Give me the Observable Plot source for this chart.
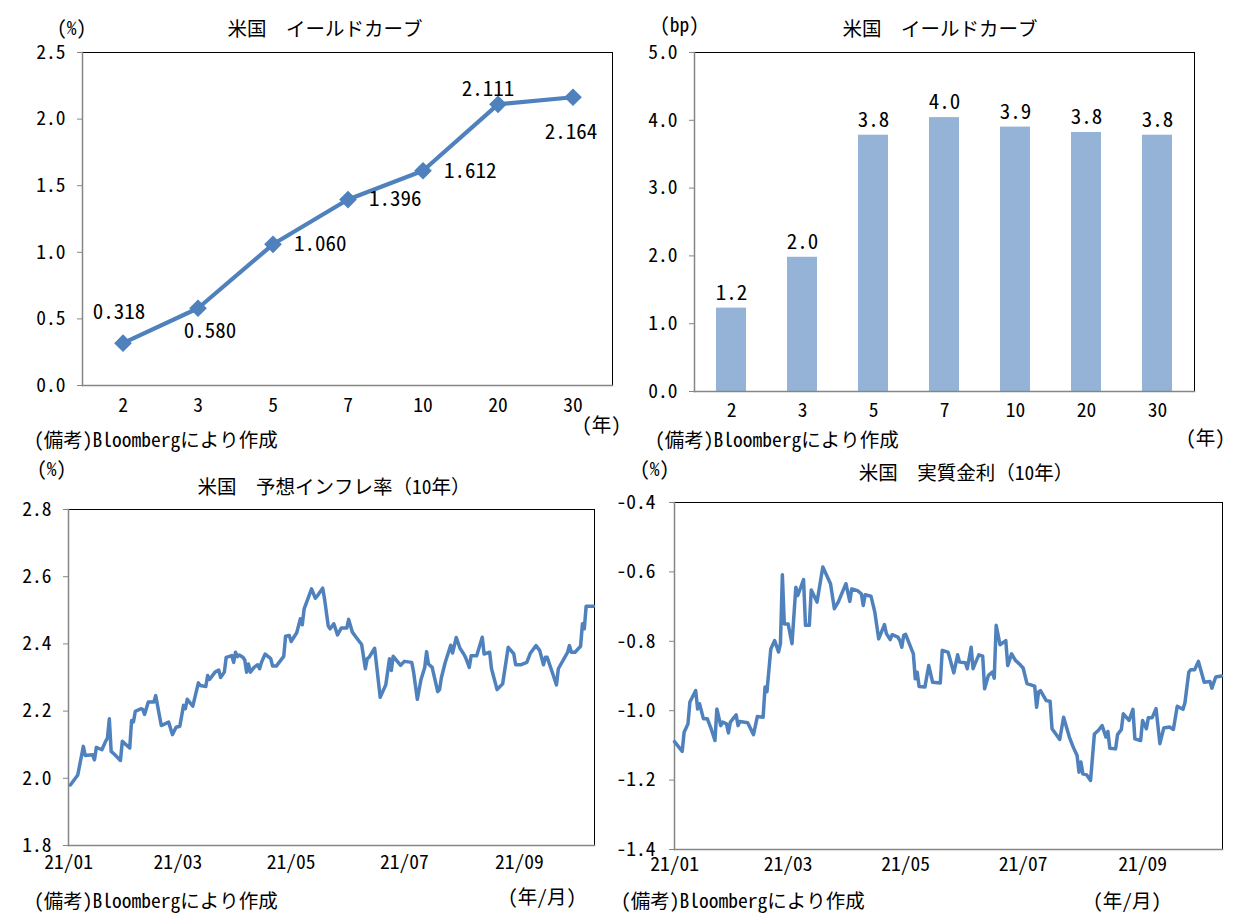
<!DOCTYPE html>
<html><head><meta charset="utf-8">
<script src="https://cdn.jsdelivr.net/npm/d3@7"></script>
<script src="https://cdn.jsdelivr.net/npm/@observablehq/plot@0.6"></script>
<style>
body{margin:0;background:#fff;}
#root{position:relative;width:1241px;height:920px;font-family:"Noto Sans Mono CJK JP","Noto Sans CJK JP",sans-serif;color:#000;overflow:hidden;}
.t{position:absolute;font-size:19.5px;white-space:nowrap;line-height:18px;}
.c{transform:translateX(-50%);}
.p{position:absolute;}
</style></head><body><div id="root"></div>
<script>
// ---- data ----
const maturities = ["2","3","5","7","10","20","30"];
const yields = [0.318,0.580,1.060,1.396,1.612,2.111,2.164];
const yieldChangeBp = [1.23,1.98,3.78,4.04,3.90,3.82,3.78];
const yieldTicks = [0,0.5,1.0,1.5,2.0,2.5];
const bpTicks = [0,1,2,3,4,5];
const beiTicks = [1.8,2.0,2.2,2.4,2.6,2.8];
const realTicks = [-1.4,-1.2,-1.0,-0.8,-0.6,-0.4];
// days since 2021-01-01
const beiDays = [1,5,8,9,13,14,15,18,20,21,22,23,25,28,29,33,34,35,36,39,40,41,43,46,47,50,54,56,58,60,62,63,64,67,70,71,74,75,76,79,81,82,84,85,88,89,90,91,92,94,95,96,97,98,100,102,103,104,106,109,110,112,116,117,119,120,123,125,126,127,129,131,133,134,137,138,140,141,143,145,147,150,151,153,155,158,160,161,162,165,168,171,173,174,175,179,181,185,186,188,190,192,193,194,196,199,200,201,203,206,207,209,211,213,214,216,217,220,223,224,227,228,231,234,236,237,240,241,244,247,249,252,254,256,257,258,261,263,264,269,270,271,273,276,277,278,279,283];
const beiValues = [1.98,2.01,2.095,2.068,2.07,2.055,2.092,2.085,2.11,2.12,2.177,2.08,2.07,2.053,2.11,2.09,2.172,2.168,2.199,2.207,2.205,2.19,2.227,2.227,2.246,2.157,2.167,2.13,2.152,2.155,2.217,2.207,2.235,2.215,2.284,2.276,2.273,2.306,2.294,2.316,2.322,2.30,2.316,2.36,2.365,2.345,2.375,2.362,2.367,2.36,2.352,2.316,2.34,2.316,2.33,2.338,2.326,2.345,2.37,2.356,2.334,2.334,2.363,2.423,2.425,2.407,2.433,2.475,2.457,2.504,2.534,2.564,2.536,2.542,2.566,2.534,2.453,2.445,2.46,2.427,2.447,2.447,2.473,2.435,2.42,2.398,2.326,2.356,2.36,2.387,2.241,2.278,2.356,2.321,2.363,2.336,2.348,2.345,2.316,2.235,2.294,2.33,2.377,2.34,2.33,2.258,2.264,2.30,2.344,2.396,2.373,2.419,2.387,2.37,2.36,2.33,2.365,2.365,2.42,2.37,2.375,2.326,2.264,2.281,2.354,2.39,2.37,2.338,2.338,2.345,2.373,2.395,2.38,2.338,2.36,2.36,2.311,2.278,2.326,2.375,2.395,2.375,2.375,2.393,2.46,2.445,2.512,2.512];
const realDays = [0,4,5,7,8,11,12,13,15,17,19,21,22,24,25,27,28,29,32,33,34,38,41,43,46,47,48,50,52,54,55,56,57,59,61,63,64,67,68,70,71,74,77,81,83,85,89,91,92,95,97,98,99,102,104,106,109,110,112,113,116,117,118,119,120,124,125,126,127,130,132,134,138,139,142,143,145,147,148,151,152,154,155,156,158,160,161,163,165,166,167,169,172,173,175,177,179,181,183,187,188,189,190,193,195,196,200,202,205,207,209,210,211,212,214,216,218,220,222,224,225,226,229,230,232,233,236,238,239,242,243,245,246,248,250,252,254,257,259,261,262,264,265,267,268,270,272,275,278,279,281,284];
const realValues = [-1.089,-1.117,-1.062,-1.038,-0.975,-0.942,-0.995,-0.98,-1.023,-1.023,-1.052,-1.086,-0.995,-1.043,-1.033,-1.038,-1.064,-1.033,-1.012,-1.043,-1.031,-1.035,-1.069,-1.017,-1.019,-0.932,-0.945,-0.822,-0.798,-0.831,-0.807,-0.608,-0.75,-0.75,-0.807,-0.644,-0.668,-0.622,-0.754,-0.754,-0.652,-0.687,-0.586,-0.634,-0.706,-0.687,-0.634,-0.685,-0.649,-0.654,-0.663,-0.697,-0.666,-0.67,-0.716,-0.793,-0.752,-0.778,-0.795,-0.781,-0.788,-0.798,-0.817,-0.783,-0.78,-0.836,-0.908,-0.889,-0.93,-0.932,-0.87,-0.918,-0.92,-0.826,-0.831,-0.85,-0.891,-0.839,-0.86,-0.862,-0.879,-0.817,-0.879,-0.865,-0.839,-0.843,-0.937,-0.898,-0.889,-0.906,-0.754,-0.81,-0.798,-0.87,-0.836,-0.855,-0.865,-0.877,-0.922,-0.929,-0.99,-0.946,-0.942,-0.971,-0.973,-1.052,-1.083,-1.019,-1.076,-1.105,-1.129,-1.177,-1.148,-1.182,-1.185,-1.201,-1.067,-1.057,-1.043,-1.076,-1.06,-1.108,-1.11,-1.069,-1.054,-1.009,-1.028,-0.996,-1.081,-1.086,-1.028,-1.052,-1.02,-1.02,-0.994,-1.095,-1.05,-1.047,-1.054,-0.987,-0.99,-0.996,-0.977,-0.889,-0.882,-0.882,-0.858,-0.918,-0.916,-0.935,-0.903,-0.9];

// ---- helpers ----
const FONT = '"Noto Sans Mono CJK JP","Noto Sans CJK JP",sans-serif';
const BLUE = "#4F81BD";
const BAR = "#95B3D7";
const AXIS = "#868686";
const t0 = Date.UTC(2021,0,1);
const toDate = d => new Date(t0 + d*864e5);
const f1 = d => d.toFixed(1);
const root = document.getElementById("root");

function place(svg, left, top){ const w=document.createElement("div"); w.className="p"; w.style.left=left+"px"; w.style.top=top+"px"; w.appendChild(svg); root.appendChild(w); }
function label(text, left, top, center){ const e=document.createElement("div"); e.className="t"+(center?" c":""); e.style.left=left+"px"; e.style.top=top+"px"; e.textContent=text; root.appendChild(e); }
function frames(){ return [
  Plot.frame({stroke:"#000", strokeWidth:1}),
  Plot.frame({anchor:"left", stroke:AXIS, strokeWidth:1.5}),
  Plot.frame({anchor:"bottom", stroke:AXIS, strokeWidth:1.5})
];}
const baseStyle = {fontFamily:FONT, fontSize:"19.5px", color:"#000", background:"transparent", overflow:"visible"};

// ---- chart 1: yield curve ----
const yc = maturities.map((m,i)=>({m, v:yields[i]}));
const yPlace = [
  {dx:-4, dy:-31, textAnchor:"middle"},
  {dx:12, dy:23, textAnchor:"middle"},
  {dx:21, dy:0, textAnchor:"start"},
  {dx:21, dy:0, textAnchor:"start"},
  {dx:21, dy:0, textAnchor:"start"},
  {dx:-10, dy:-15, textAnchor:"middle"},
  {dx:-2, dy:35, textAnchor:"middle"}
];
const c1 = Plot.plot({
  width:620, height:420, marginLeft:82, marginRight:8, marginTop:52, marginBottom:35,
  style: baseStyle,
  x:{type:"band", domain:maturities, padding:0},
  y:{domain:[0,2.5]},
  marks:[
    ...frames(),
    Plot.axisY({ticks:yieldTicks, tickFormat:f1, tickSize:5, tickPadding:12, stroke:AXIS, fill:"#000", label:null}),
    Plot.axisX({tickSize:0, tickPadding:13, fill:"#000", label:null}),
    Plot.line(yc, {x:"m", y:"v", stroke:BLUE, strokeWidth:4.2}),
    Plot.dot(yc, {x:"m", y:"v", symbol:"diamond2", r:7, fill:BLUE, stroke:BLUE}),
    ...yc.map((d,i)=>Plot.text([d], {x:"m", y:"v", text:e=>e.v.toFixed(3), fill:"#000", fontSize:21, ...yPlace[i]}))
  ]
});
place(c1, 0, 0);
label("(%)", 57, 18);
label("米国　イールドカーブ", 325, 19, true);
label("(年)", 582, 415);
label("(備考)Bloombergにより作成", 34, 430);

// ---- chart 2: change in bp ----
const bc = maturities.map((m,i)=>({m, v:yieldChangeBp[i]}));
const c2 = Plot.plot({
  width:621, height:420, marginLeft:74, marginRight:47, marginTop:52, marginBottom:29,
  style: baseStyle,
  x:{type:"band", domain:maturities, paddingInner:0.58, paddingOuter:0.29},
  y:{domain:[0,5]},
  marks:[
    Plot.barY(bc, {x:"m", y:"v", fill:BAR}),
    ...frames(),
    Plot.axisY({ticks:bpTicks, tickFormat:f1, tickSize:5, tickPadding:12, stroke:AXIS, fill:"#000", label:null}),
    Plot.axisX({tickSize:0, tickPadding:12, fill:"#000", label:null}),
    Plot.text(bc, {x:"m", y:"v", text:e=>e.v.toFixed(1), dy:-15, fill:"#000", fontSize:21})
  ]
});
place(c2, 620, 0);
label("(bp)", 660, 15);
label("米国　イールドカーブ", 940, 19, true);
label("(年)", 1186, 428);
label("(備考)Bloombergにより作成", 655, 430);

// ---- chart 3: breakeven inflation ----
const bei = beiDays.map((d,i)=>({date:toDate(d), v:beiValues[i]}));
const c3 = Plot.plot({
  width:620, height:420, marginLeft:68, marginRight:26, marginTop:49, marginBottom:35,
  style: baseStyle,
  x:{type:"utc", domain:[new Date(t0), toDate(283.5)]},
  y:{domain:[1.8,2.8]},
  marks:[
    ...frames(),
    Plot.axisY({ticks:beiTicks, tickFormat:f1, tickSize:5, tickPadding:12, stroke:AXIS, fill:"#000", label:null}),
    Plot.axisX({ticks:d3.utcMonth.every(2), tickFormat:d3.utcFormat("%y/%m"), tickSize:0, tickPadding:10, fill:"#000", label:null}),
    Plot.line(bei, {x:"date", y:"v", stroke:BLUE, strokeWidth:3.5})
  ]
});
place(c3, 0, 460);
label("(%)", 37, 459);
label("米国　予想インフレ率（10年）", 334, 477, true);
label("(年/月)", 508, 887);
label("(備考)Bloombergにより作成", 34, 891);

// ---- chart 4: real rate ----
const rr = realDays.map((d,i)=>({date:toDate(d), v:realValues[i]}));
const c4 = Plot.plot({
  width:621, height:420, marginLeft:54, marginRight:19, marginTop:42, marginBottom:31,
  style: baseStyle,
  x:{type:"utc", domain:[new Date(t0), toDate(284.5)]},
  y:{domain:[-1.4,-0.4]},
  marks:[
    ...frames(),
    Plot.axisY({ticks:realTicks, tickFormat:f1, tickSize:5, tickPadding:14, stroke:AXIS, fill:"#000", label:null}),
    Plot.axisX({ticks:d3.utcMonth.every(2), tickFormat:d3.utcFormat("%y/%m"), tickSize:0, tickPadding:8, fill:"#000", label:null}),
    Plot.line(rr, {x:"date", y:"v", stroke:BLUE, strokeWidth:3.5})
  ]
});
place(c4, 620, 460);
label("(%)", 640, 459);
label("米国　実質金利（10年）", 966, 463, true);
label("(年/月)", 1093, 891);
label("(備考)Bloombergにより作成", 621, 891);
</script></body></html>
